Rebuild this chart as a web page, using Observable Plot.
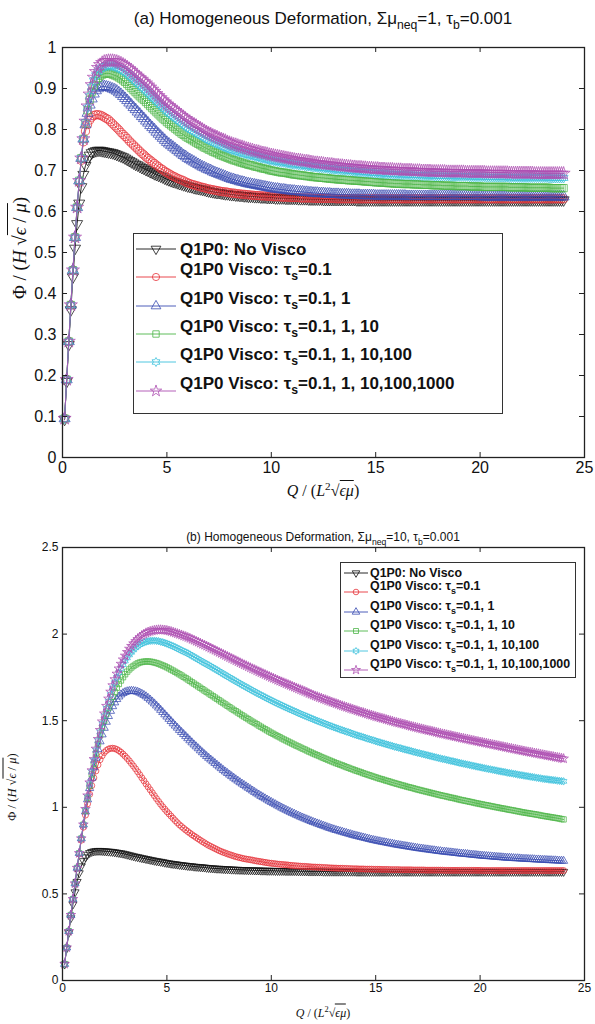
<!DOCTYPE html>
<html>
<head>
<meta charset="utf-8">
<script src="https://cdn.jsdelivr.net/npm/d3@7"></script>
<script src="https://cdn.jsdelivr.net/npm/@observablehq/plot@0.6"></script>
<style>
  body { margin: 0; background: #fff; }
  #fig { position: relative; width: 595px; height: 1024px; overflow: hidden;
         font-family: "Liberation Sans", Arial, Helvetica, sans-serif; color: #111; }
  #fig svg.plot { position: absolute; left: 0; }
  .lbl { position: absolute; white-space: nowrap; transform: translate(-50%, -50%); }
  .sub { font-size: 0.72em; position: relative; top: 0.42em; }
  .math { font-family: "Liberation Serif", "DejaVu Serif", serif; }
  .math i { font-style: italic; }
  .ov { border-top: 1px solid #111; padding-top: 1px; }
  .sup { font-size: 0.7em; position: relative; top: -0.55em; }
  .legend { position: absolute; background: #fff; border: 1px solid #333; box-sizing: border-box; }
  .legend .entry { position: absolute; left: 0; white-space: nowrap; font-weight: bold; }
  .legend svg { position: absolute; overflow: visible; }
</style>
</head>
<body>
<div id="fig"></div>
<script>
// Flux rate Q/(L^2 sqrt(eps mu)), one row per unit of Q
const q = [
  0.1,0.2,0.3,0.4,0.5,0.6,0.7,0.8,0.9,1.0,
  1.1,1.2,1.3,1.4,1.5,1.6,1.7,1.8,1.9,2.0,
  2.1,2.2,2.3,2.4,2.5,2.6,2.7,2.8,2.9,3.0,
  3.1,3.2,3.3,3.4,3.5,3.6,3.7,3.8,3.9,4.0,
  4.1,4.2,4.3,4.4,4.5,4.6,4.7,4.8,4.9,5.0,
  5.1,5.2,5.3,5.4,5.5,5.6,5.7,5.8,5.9,6.0,
  6.1,6.2,6.3,6.4,6.5,6.6,6.7,6.8,6.9,7.0,
  7.1,7.2,7.3,7.4,7.5,7.6,7.7,7.8,7.9,8.0,
  8.1,8.2,8.3,8.4,8.5,8.6,8.7,8.8,8.9,9.0,
  9.1,9.2,9.3,9.4,9.5,9.6,9.7,9.8,9.9,10.0,
  10.1,10.2,10.3,10.4,10.5,10.6,10.7,10.8,10.9,11.0,
  11.1,11.2,11.3,11.4,11.5,11.6,11.7,11.8,11.9,12.0,
  12.1,12.2,12.3,12.4,12.5,12.6,12.7,12.8,12.9,13.0,
  13.1,13.2,13.3,13.4,13.5,13.6,13.7,13.8,13.9,14.0,
  14.1,14.2,14.3,14.4,14.5,14.6,14.7,14.8,14.9,15.0,
  15.1,15.2,15.3,15.4,15.5,15.6,15.7,15.8,15.9,16.0,
  16.1,16.2,16.3,16.4,16.5,16.6,16.7,16.8,16.9,17.0,
  17.1,17.2,17.3,17.4,17.5,17.6,17.7,17.8,17.9,18.0,
  18.1,18.2,18.3,18.4,18.5,18.6,18.7,18.8,18.9,19.0,
  19.1,19.2,19.3,19.4,19.5,19.6,19.7,19.8,19.9,20.0,
  20.1,20.2,20.3,20.4,20.5,20.6,20.7,20.8,20.9,21.0,
  21.1,21.2,21.3,21.4,21.5,21.6,21.7,21.8,21.9,22.0,
  22.1,22.2,22.3,22.4,22.5,22.6,22.7,22.8,22.9,23.0,
  23.1,23.2,23.3,23.4,23.5,23.6,23.7,23.8,23.9,24.0];

// Q1P0 without viscosity (identical in both panels)
const noVisco = [
  .093,.185,.275,.36,.44,.51,.57,.62,.66,.69,
  .712,.727,.737,.743,.746,.748,.749,.749,.748,.747,
  .746,.745,.744,.743,.741,.739,.737,.735,.733,.730,
  .727,.724,.721,.718,.715,.713,.710,.707,.705,.702,
  .700,.697,.695,.692,.690,.688,.686,.684,.681,.679,
  .677,.675,.673,.672,.670,.668,.667,.665,.664,.662,
  .661,.660,.658,.657,.656,.655,.654,.653,.651,.650,
  .649,.648,.647,.646,.646,.645,.644,.643,.643,.642,
  .641,.641,.640,.640,.639,.639,.638,.638,.637,.637,
  .637,.636,.636,.636,.635,.635,.635,.634,.634,.634,
  .634,.633,.633,.633,.633,.633,.632,.632,.632,.632,
  .632,.632,.631,.631,.631,.631,.631,.630,.630,.630,
  .630,.630,.630,.630,.629,.629,.629,.629,.629,.629,
  .629,.629,.629,.629,.629,.629,.629,.629,.629,.629,
  .628,.628,.628,.628,.628,.628,.628,.628,.628,.628,
  .628,.628,.628,.628,.628,.628,.628,.628,.628,.628,
  .628,.628,.628,.628,.628,.628,.628,.628,.628,.628,
  .628,.628,.628,.628,.628,.628,.628,.628,.628,.628,
  .628,.628,.628,.628,.628,.628,.628,.628,.628,.628,
  .628,.628,.628,.628,.628,.628,.628,.628,.628,.628,
  .628,.628,.628,.628,.628,.628,.628,.628,.628,.628,
  .628,.628,.628,.628,.628,.628,.628,.628,.628,.628,
  .628,.628,.628,.628,.628,.628,.628,.628,.628,.628,
  .628,.628,.628,.628,.628,.628,.628,.628,.628,.628];

// Panel (a): sum mu_neq = 1
const a1 = [
  .095,.19,.283,.372,.457,.537,.61,.672,.725,.77,
  .796,.812,.823,.830,.834,.836,.836,.835,.833,.830,
  .827,.824,.819,.814,.809,.804,.799,.793,.788,.783,
  .778,.772,.767,.762,.757,.752,.747,.742,.738,.733,
  .729,.725,.721,.717,.713,.709,.705,.702,.698,.695,
  .692,.689,.686,.684,.681,.679,.677,.675,.672,.670,
  .668,.666,.665,.663,.662,.660,.659,.658,.656,.655,
  .654,.653,.652,.651,.650,.649,.648,.648,.647,.646,
  .645,.645,.644,.643,.643,.642,.642,.641,.641,.640,
  .640,.639,.639,.639,.638,.638,.638,.637,.637,.637,
  .636,.636,.636,.636,.635,.635,.635,.635,.634,.634,
  .634,.634,.634,.633,.633,.633,.633,.633,.633,.632,
  .632,.632,.632,.632,.632,.632,.632,.632,.632,.632,
  .631,.631,.631,.631,.631,.631,.631,.631,.631,.631,
  .631,.631,.631,.631,.631,.631,.631,.631,.631,.631,
  .631,.631,.631,.631,.631,.631,.631,.631,.631,.631,
  .631,.631,.631,.631,.631,.631,.631,.631,.631,.631,
  .631,.631,.631,.631,.631,.631,.631,.631,.631,.631,
  .631,.631,.631,.631,.631,.631,.631,.631,.631,.631,
  .631,.631,.631,.631,.631,.631,.631,.631,.631,.631,
  .631,.631,.631,.631,.631,.631,.631,.631,.631,.631,
  .631,.631,.631,.631,.631,.631,.631,.631,.631,.631,
  .631,.631,.631,.631,.631,.631,.631,.631,.631,.631,
  .631,.631,.631,.631,.631,.631,.631,.631,.631,.631];
const a2 = [
  .095,.19,.283,.372,.457,.537,.61,.675,.73,.777,
  .812,.840,.860,.875,.887,.895,.900,.903,.905,.905,
  .904,.903,.901,.899,.897,.894,.890,.886,.881,.876,
  .871,.865,.860,.854,.849,.843,.838,.832,.827,.821,
  .816,.810,.805,.800,.794,.789,.784,.779,.774,.769,
  .765,.761,.757,.753,.749,.745,.741,.737,.734,.730,
  .727,.724,.721,.718,.715,.712,.709,.707,.704,.702,
  .700,.697,.695,.693,.691,.689,.687,.685,.683,.681,
  .679,.678,.676,.675,.673,.672,.671,.669,.668,.667,
  .666,.665,.664,.663,.662,.661,.660,.659,.658,.657,
  .656,.655,.655,.654,.653,.653,.652,.651,.651,.650,
  .650,.649,.649,.648,.648,.647,.647,.646,.646,.645,
  .645,.645,.644,.644,.644,.643,.643,.643,.642,.642,
  .642,.642,.641,.641,.641,.641,.641,.640,.640,.640,
  .640,.640,.639,.639,.639,.639,.639,.639,.639,.638,
  .638,.638,.638,.638,.638,.638,.638,.638,.638,.638,
  .638,.638,.638,.638,.637,.637,.637,.637,.637,.637,
  .637,.637,.637,.637,.637,.637,.637,.637,.637,.637,
  .637,.637,.637,.637,.637,.637,.637,.637,.637,.637,
  .637,.637,.637,.637,.637,.637,.637,.637,.637,.637,
  .636,.636,.636,.636,.636,.636,.636,.636,.636,.636,
  .636,.636,.636,.636,.636,.636,.636,.636,.636,.636,
  .636,.636,.636,.636,.636,.636,.636,.636,.636,.636,
  .636,.636,.636,.636,.636,.636,.636,.636,.636,.636];
const a3 = [
  .095,.19,.283,.372,.457,.537,.61,.675,.73,.777,
  .815,.847,.872,.892,.907,.918,.926,.931,.934,.936,
  .937,.937,.936,.934,.932,.930,.927,.924,.920,.916,
  .911,.906,.901,.896,.891,.886,.881,.876,.872,.867,
  .862,.857,.852,.847,.842,.837,.832,.827,.823,.818,
  .814,.810,.806,.802,.798,.794,.790,.787,.783,.780,
  .777,.774,.771,.768,.765,.762,.759,.756,.754,.751,
  .749,.746,.744,.742,.739,.737,.735,.733,.731,.729,
  .727,.725,.724,.722,.720,.719,.717,.716,.714,.713,
  .712,.710,.709,.708,.706,.705,.704,.703,.701,.700,
  .699,.698,.697,.696,.695,.695,.694,.693,.692,.691,
  .690,.690,.689,.688,.688,.687,.686,.686,.685,.684,
  .684,.683,.683,.682,.682,.681,.681,.680,.680,.679,
  .679,.678,.678,.678,.677,.677,.676,.676,.676,.675,
  .675,.675,.674,.674,.673,.673,.673,.672,.672,.671,
  .671,.671,.670,.670,.670,.669,.669,.669,.668,.668,
  .668,.668,.667,.667,.667,.667,.667,.666,.666,.666,
  .666,.665,.665,.665,.665,.665,.664,.664,.664,.664,
  .664,.663,.663,.663,.663,.663,.663,.662,.662,.662,
  .662,.662,.662,.662,.661,.661,.661,.661,.661,.661,
  .660,.660,.660,.660,.660,.660,.660,.660,.660,.660,
  .660,.660,.660,.659,.659,.659,.659,.659,.659,.659,
  .659,.659,.658,.658,.658,.658,.658,.658,.658,.658,
  .658,.658,.658,.657,.657,.657,.657,.657,.657,.657];
const a4 = [
  .095,.19,.283,.372,.457,.537,.61,.675,.73,.777,
  .818,.853,.881,.903,.919,.932,.941,.947,.951,.954,
  .955,.956,.956,.955,.954,.952,.950,.947,.944,.941,
  .937,.932,.928,.923,.918,.914,.909,.904,.900,.895,
  .890,.885,.880,.875,.870,.865,.860,.855,.850,.845,
  .841,.837,.833,.829,.825,.821,.817,.813,.809,.805,
  .802,.799,.796,.793,.790,.787,.784,.781,.778,.775,
  .773,.771,.768,.766,.764,.762,.759,.757,.755,.753,
  .751,.750,.748,.747,.745,.744,.742,.741,.739,.738,
  .737,.735,.734,.733,.731,.730,.729,.728,.726,.725,
  .724,.723,.722,.721,.720,.720,.719,.718,.717,.716,
  .715,.715,.714,.713,.713,.712,.711,.711,.710,.709,
  .709,.708,.707,.707,.706,.706,.705,.704,.704,.703,
  .703,.702,.702,.701,.701,.700,.700,.699,.699,.698,
  .698,.697,.697,.697,.696,.696,.695,.695,.694,.694,
  .694,.693,.693,.693,.692,.692,.692,.691,.691,.691,
  .691,.690,.690,.690,.690,.690,.689,.689,.689,.689,
  .689,.688,.688,.688,.688,.688,.688,.687,.687,.687,
  .687,.687,.687,.687,.687,.686,.686,.686,.686,.686,
  .686,.686,.686,.686,.685,.685,.685,.685,.685,.685,
  .685,.685,.684,.684,.684,.684,.684,.684,.684,.684,
  .684,.684,.684,.683,.683,.683,.683,.683,.683,.683,
  .683,.683,.683,.683,.683,.683,.683,.683,.683,.683,
  .683,.683,.682,.682,.682,.682,.682,.682,.682,.682];
const a5 = [
  .095,.19,.283,.372,.457,.537,.61,.675,.73,.777,
  .820,.857,.886,.909,.927,.941,.951,.958,.963,.966,
  .967,.968,.968,.968,.967,.966,.964,.962,.959,.956,
  .952,.948,.944,.939,.935,.930,.926,.922,.917,.913,
  .908,.903,.898,.893,.887,.882,.877,.872,.867,.862,
  .858,.854,.850,.846,.842,.838,.834,.830,.826,.822,
  .819,.816,.813,.810,.806,.803,.800,.797,.794,.791,
  .789,.786,.784,.782,.779,.777,.775,.773,.770,.768,
  .766,.764,.763,.761,.759,.758,.756,.754,.753,.751,
  .750,.748,.747,.746,.744,.743,.742,.741,.739,.738,
  .737,.736,.735,.734,.733,.732,.731,.730,.729,.728,
  .727,.726,.726,.725,.724,.723,.723,.722,.721,.720,
  .719,.719,.718,.718,.717,.716,.716,.715,.715,.714,
  .713,.713,.712,.712,.711,.711,.710,.710,.709,.709,
  .708,.708,.708,.707,.707,.706,.706,.706,.705,.705,
  .705,.704,.704,.704,.703,.703,.703,.703,.702,.702,
  .702,.702,.701,.701,.701,.701,.701,.700,.700,.700,
  .700,.699,.699,.699,.699,.699,.698,.698,.698,.698,
  .698,.698,.698,.697,.697,.697,.697,.697,.697,.697,
  .697,.697,.696,.696,.696,.696,.696,.696,.696,.696,
  .696,.696,.695,.695,.695,.695,.695,.695,.695,.695,
  .695,.695,.695,.694,.694,.694,.694,.694,.694,.694,
  .694,.694,.694,.694,.694,.693,.693,.693,.693,.693,
  .693,.693,.693,.693,.693,.693,.693,.693,.693,.693];

// Panel (b): sum mu_neq = 10
const b1 = [
  .095,.19,.285,.378,.47,.56,.648,.73,.81,.885,
  .955,1.02,1.075,1.125,1.17,1.21,1.245,1.275,1.298,1.316,
  1.328,1.336,1.340,1.341,1.339,1.334,1.327,1.318,1.307,1.295,
  1.282,1.268,1.253,1.238,1.222,1.205,1.188,1.170,1.153,1.135,
  1.118,1.101,1.084,1.067,1.050,1.034,1.018,1.003,.989,.975,
  .962,.949,.936,.923,.911,.899,.889,.879,.869,.860,
  .851,.842,.834,.826,.818,.810,.802,.795,.787,.780,
  .774,.768,.762,.756,.750,.745,.740,.736,.731,.727,
  .723,.719,.715,.712,.709,.706,.703,.701,.699,.697,
  .695,.692,.690,.688,.686,.684,.682,.680,.678,.677,
  .675,.674,.672,.671,.670,.669,.668,.667,.665,.664,
  .663,.662,.661,.660,.659,.659,.658,.657,.656,.655,
  .655,.654,.654,.653,.652,.652,.651,.650,.650,.649,
  .649,.648,.648,.648,.647,.647,.646,.646,.645,.645,
  .645,.644,.644,.644,.643,.643,.643,.643,.642,.642,
  .642,.642,.641,.641,.641,.641,.640,.640,.640,.640,
  .640,.639,.639,.639,.639,.639,.639,.638,.638,.638,
  .638,.638,.638,.637,.637,.637,.637,.637,.637,.637,
  .637,.637,.636,.636,.636,.636,.636,.636,.636,.636,
  .636,.636,.636,.636,.636,.636,.636,.636,.636,.636,
  .635,.635,.635,.635,.635,.635,.635,.635,.635,.635,
  .635,.635,.635,.635,.635,.635,.635,.635,.635,.635,
  .635,.635,.635,.635,.635,.635,.635,.635,.635,.635,
  .635,.635,.635,.635,.635,.635,.635,.635,.635,.635];
const b2 = [
  .095,.19,.285,.378,.47,.56,.65,.735,.82,.90,
  .975,1.045,1.11,1.17,1.23,1.285,1.335,1.38,1.42,1.458,
  1.493,1.526,1.556,1.583,1.605,1.624,1.639,1.651,1.659,1.665,
  1.669,1.671,1.672,1.671,1.669,1.666,1.661,1.655,1.648,1.640,
  1.631,1.621,1.610,1.599,1.587,1.575,1.562,1.549,1.536,1.523,
  1.510,1.497,1.484,1.471,1.459,1.446,1.434,1.422,1.410,1.398,
  1.386,1.374,1.362,1.351,1.340,1.328,1.317,1.306,1.295,1.285,
  1.275,1.265,1.255,1.245,1.235,1.225,1.215,1.206,1.197,1.188,
  1.179,1.170,1.161,1.153,1.144,1.136,1.128,1.120,1.112,1.104,
  1.096,1.088,1.080,1.073,1.065,1.058,1.051,1.044,1.037,1.030,
  1.023,1.017,1.010,1.004,.997,.991,.985,.979,.973,.967,
  .962,.956,.951,.945,.940,.935,.930,.925,.920,.915,
  .911,.906,.902,.897,.893,.889,.884,.880,.876,.872,
  .868,.865,.861,.858,.854,.851,.847,.844,.840,.837,
  .834,.831,.828,.825,.822,.819,.816,.813,.810,.808,
  .805,.803,.800,.798,.796,.793,.791,.789,.786,.784,
  .782,.780,.778,.776,.774,.772,.770,.768,.766,.764,
  .762,.761,.759,.757,.756,.754,.752,.751,.749,.747,
  .746,.744,.743,.742,.740,.739,.738,.736,.735,.733,
  .732,.731,.730,.729,.727,.726,.725,.724,.722,.721,
  .720,.719,.718,.717,.716,.715,.714,.713,.712,.711,
  .710,.709,.708,.708,.707,.706,.705,.705,.704,.703,
  .702,.702,.701,.700,.700,.699,.698,.698,.697,.696,
  .696,.695,.694,.694,.693,.693,.692,.691,.691,.690];
const b3 = [
  .095,.19,.285,.378,.47,.56,.65,.735,.82,.90,
  .98,1.055,1.125,1.19,1.25,1.31,1.365,1.415,1.46,1.50,
  1.538,1.574,1.607,1.638,1.665,1.690,1.712,1.732,1.751,1.768,
  1.783,1.796,1.807,1.816,1.824,1.831,1.836,1.839,1.841,1.842,
  1.842,1.841,1.839,1.836,1.833,1.829,1.824,1.819,1.814,1.808,
  1.802,1.795,1.789,1.782,1.775,1.768,1.761,1.753,1.746,1.738,
  1.730,1.722,1.714,1.706,1.698,1.690,1.682,1.674,1.666,1.658,
  1.650,1.642,1.634,1.626,1.618,1.610,1.602,1.594,1.586,1.578,
  1.570,1.562,1.555,1.547,1.539,1.531,1.524,1.516,1.509,1.501,
  1.494,1.487,1.480,1.472,1.465,1.458,1.451,1.444,1.437,1.430,
  1.424,1.417,1.411,1.405,1.398,1.392,1.386,1.380,1.374,1.368,
  1.362,1.356,1.351,1.345,1.339,1.334,1.328,1.322,1.317,1.311,
  1.306,1.301,1.296,1.290,1.285,1.280,1.275,1.270,1.265,1.260,
  1.255,1.251,1.246,1.242,1.237,1.232,1.228,1.223,1.219,1.214,
  1.210,1.206,1.202,1.197,1.193,1.189,1.185,1.181,1.177,1.173,
  1.169,1.165,1.162,1.158,1.154,1.151,1.147,1.143,1.140,1.136,
  1.133,1.129,1.126,1.123,1.119,1.116,1.113,1.110,1.106,1.103,
  1.100,1.097,1.094,1.091,1.088,1.085,1.082,1.079,1.076,1.073,
  1.070,1.067,1.065,1.062,1.059,1.056,1.054,1.051,1.048,1.045,
  1.042,1.040,1.037,1.035,1.032,1.030,1.027,1.024,1.022,1.019,
  1.017,1.014,1.012,1.010,1.007,1.005,1.002,1.000,.998,.995,
  .993,.991,.988,.986,.984,.982,.979,.977,.975,.972,
  .970,.968,.966,.964,.962,.960,.958,.956,.953,.951,
  .949,.947,.945,.943,.941,.939,.937,.935,.932,.930];
const b4 = [
  .095,.19,.285,.378,.47,.56,.65,.735,.82,.90,
  .985,1.06,1.135,1.205,1.27,1.33,1.385,1.435,1.483,1.528,
  1.571,1.612,1.651,1.687,1.720,1.750,1.777,1.802,1.824,1.845,
  1.863,1.880,1.895,1.909,1.921,1.931,1.940,1.947,1.952,1.956,
  1.959,1.961,1.962,1.962,1.961,1.959,1.956,1.953,1.949,1.945,
  1.940,1.935,1.930,1.924,1.918,1.912,1.906,1.900,1.895,1.889,
  1.882,1.875,1.868,1.861,1.854,1.847,1.840,1.833,1.827,1.820,
  1.813,1.806,1.799,1.792,1.785,1.777,1.770,1.763,1.756,1.749,
  1.742,1.735,1.728,1.721,1.714,1.707,1.700,1.694,1.687,1.680,
  1.674,1.667,1.661,1.654,1.648,1.642,1.635,1.629,1.623,1.617,
  1.611,1.605,1.599,1.594,1.588,1.582,1.577,1.571,1.566,1.560,
  1.555,1.550,1.544,1.539,1.534,1.529,1.524,1.519,1.514,1.509,
  1.504,1.499,1.495,1.490,1.485,1.481,1.476,1.471,1.467,1.462,
  1.458,1.454,1.449,1.445,1.441,1.437,1.433,1.429,1.424,1.420,
  1.416,1.412,1.409,1.405,1.401,1.397,1.393,1.390,1.386,1.382,
  1.378,1.375,1.371,1.368,1.364,1.361,1.357,1.354,1.350,1.347,
  1.344,1.341,1.337,1.334,1.331,1.328,1.325,1.321,1.318,1.315,
  1.312,1.309,1.306,1.303,1.300,1.297,1.294,1.291,1.288,1.285,
  1.282,1.279,1.277,1.274,1.271,1.268,1.266,1.263,1.260,1.257,
  1.254,1.252,1.249,1.247,1.244,1.241,1.239,1.236,1.234,1.231,
  1.229,1.226,1.224,1.221,1.219,1.217,1.214,1.212,1.209,1.207,
  1.205,1.203,1.200,1.198,1.196,1.194,1.192,1.189,1.187,1.185,
  1.183,1.181,1.179,1.177,1.175,1.173,1.171,1.169,1.167,1.165,
  1.163,1.162,1.160,1.159,1.157,1.156,1.154,1.153,1.151,1.150];
const b5 = [
  .095,.19,.285,.378,.47,.56,.65,.735,.82,.90,
  .99,1.068,1.143,1.213,1.278,1.338,1.394,1.446,1.495,1.541,
  1.585,1.627,1.667,1.704,1.739,1.771,1.801,1.828,1.853,1.875,
  1.896,1.915,1.931,1.946,1.959,1.971,1.982,1.992,2.000,2.007,
  2.012,2.016,2.019,2.022,2.024,2.025,2.025,2.024,2.023,2.021,
  2.018,2.015,2.011,2.007,2.003,1.999,1.995,1.990,1.986,1.981,
  1.976,1.970,1.965,1.959,1.954,1.948,1.942,1.937,1.931,1.925,
  1.919,1.913,1.907,1.901,1.895,1.889,1.883,1.877,1.871,1.865,
  1.859,1.853,1.847,1.841,1.835,1.829,1.823,1.818,1.812,1.806,
  1.800,1.795,1.789,1.783,1.778,1.772,1.767,1.761,1.756,1.750,
  1.745,1.740,1.734,1.729,1.724,1.719,1.714,1.709,1.704,1.699,
  1.694,1.689,1.684,1.679,1.674,1.669,1.664,1.658,1.653,1.648,
  1.643,1.639,1.634,1.630,1.625,1.621,1.616,1.612,1.607,1.603,
  1.599,1.595,1.590,1.586,1.582,1.578,1.574,1.570,1.566,1.562,
  1.558,1.554,1.550,1.547,1.543,1.539,1.535,1.532,1.528,1.524,
  1.521,1.517,1.514,1.511,1.507,1.504,1.500,1.497,1.493,1.490,
  1.487,1.484,1.481,1.478,1.475,1.471,1.468,1.465,1.462,1.459,
  1.456,1.453,1.450,1.447,1.444,1.442,1.439,1.436,1.433,1.430,
  1.427,1.424,1.422,1.419,1.416,1.414,1.411,1.408,1.406,1.403,
  1.400,1.398,1.395,1.393,1.390,1.387,1.385,1.382,1.380,1.377,
  1.375,1.372,1.370,1.367,1.365,1.362,1.360,1.357,1.355,1.352,
  1.350,1.347,1.345,1.342,1.340,1.337,1.335,1.332,1.330,1.327,
  1.325,1.322,1.320,1.318,1.316,1.313,1.311,1.309,1.306,1.304,
  1.302,1.299,1.297,1.295,1.293,1.290,1.288,1.286,1.283,1.281];

const seriesHead = ["Q1P0: No Visco", "Q1P0 Visco:", "Q1P0 Visco:", "Q1P0 Visco:", "Q1P0 Visco:", "Q1P0 Visco:"];
const tauS = [null, "=0.1", "=0.1, 1", "=0.1, 1, 10", "=0.1, 1, 10,100", "=0.1, 1, 10,100,1000"];
const colors = ["#111111", "#e6333a", "#3a4cb2", "#4db548", "#3dc1dc", "#ad4fb1"];

const xTicks = [0, 5, 10, 15, 20, 25];
const yTicksA = [0, 0.1, 0.2, 0.3, 0.4, 0.5, 0.6, 0.7, 0.8, 0.9, 1];
const yTicksB = [0, 0.5, 1, 1.5, 2, 2.5];

// marker shapes: down-triangle, circle, up-triangle, square, hexagram, pentagram
const triangleDown = {
  draw(ctx, size) {
    const y = -Math.sqrt(size / (Math.sqrt(3) * 3));
    ctx.moveTo(0, -y * 2);
    ctx.lineTo(-Math.sqrt(3) * y, y);
    ctx.lineTo(Math.sqrt(3) * y, y);
    ctx.closePath();
  }
};
const hexagram = {
  draw(ctx, size) {
    const R = Math.sqrt(size / Math.PI) * 1.25, r = R / Math.sqrt(3);
    for (let k = 0; k < 12; ++k) {
      const a = k * Math.PI / 6 - Math.PI / 2, rr = k % 2 ? r : R;
      const x = rr * Math.cos(a), y = rr * Math.sin(a);
      k ? ctx.lineTo(x, y) : ctx.moveTo(x, y);
    }
    ctx.closePath();
  }
};
const symbols = [triangleDown, d3.symbolCircle, d3.symbolTriangle, d3.symbolSquare, hexagram, d3.symbolStar];

const fig = document.getElementById("fig");

function panel(sets, o) {
  const innerH = o.height - o.mt - o.mb;
  const innerW = 595 - o.ml - o.mr;
  const marks = [];
  sets.forEach((vals, i) => {
    const rows = q.map((x, j) => ({q: x, v: vals[j]}));
    marks.push(Plot.line(rows, {x: "q", y: "v", stroke: colors[i], strokeWidth: 0.9}));
    marks.push(Plot.dot(rows, {x: "q", y: "v", stroke: colors[i], fill: "none",
      symbol: symbols[i], r: o.r, strokeWidth: 0.75}));
  });
  // inward ticks on all four sides of the box
  marks.push(Plot.ruleX(xTicks.slice(1, -1), {x: d => d, insetTop: innerH - o.tick, stroke: "#222", strokeWidth: 1}));
  marks.push(Plot.ruleX(xTicks.slice(1, -1), {x: d => d, insetBottom: innerH - o.tick, stroke: "#222", strokeWidth: 1}));
  marks.push(Plot.ruleY(o.yTicks.slice(1, -1), {y: d => d, insetRight: innerW - o.tick, stroke: "#222", strokeWidth: 1}));
  marks.push(Plot.ruleY(o.yTicks.slice(1, -1), {y: d => d, insetLeft: innerW - o.tick, stroke: "#222", strokeWidth: 1}));
  marks.push(Plot.axisX({ticks: xTicks, tickSize: 0, tickPadding: o.padX, label: null, tickFormat: d => String(d)}));
  marks.push(Plot.axisY({ticks: o.yTicks, tickSize: 0, tickPadding: o.padY, label: null, tickFormat: d => String(d)}));
  marks.push(Plot.frame({stroke: "#222", strokeWidth: 1.3}));
  const svg = Plot.plot({
    width: 595, height: o.height,
    marginLeft: o.ml, marginRight: o.mr, marginTop: o.mt, marginBottom: o.mb,
    x: {domain: [0, 25]}, y: {domain: o.yDomain},
    style: {fontFamily: '"Liberation Sans", Arial, sans-serif', fontSize: o.font + "px", color: "#111", background: "transparent"},
    marks
  });
  svg.style.top = o.top + "px";
  fig.appendChild(svg);
}

panel([noVisco, a1, a2, a3, a4, a5], {
  top: 0, height: 500, ml: 62, mr: 11, mt: 47, mb: 43, r: 4.1, tick: 5,
  yDomain: [0, 1], yTicks: yTicksA, font: 16, padX: 4, padY: 6
});
panel([noVisco, b1, b2, b3, b4, b5], {
  top: 510, height: 514, ml: 62, mr: 11, mt: 47, mb: 34, r: 3, tick: 5,
  yDomain: [0, 2.5], yTicks: yTicksB, font: 12, padX: 3, padY: 4
});

function addLabel(html, x, y, style) {
  const d = document.createElement("div");
  d.className = "lbl";
  d.innerHTML = html;
  d.style.left = x + "px";
  d.style.top = y + "px";
  Object.assign(d.style, style || {});
  fig.appendChild(d);
  return d;
}

// titles
addLabel('(a) Homogeneous Deformation, Σμ<span class="sub">neq</span>=1, τ<span class="sub">b</span>=0.001', 323, 19, {fontSize: "17px"});
addLabel('(b) Homogeneous Deformation, Σμ<span class="sub">neq</span>=10, τ<span class="sub">b</span>=0.001', 323, 537, {fontSize: "12px"});

// axis titles
const xTitle = '<span class="math"><i>Q</i> / (<i>L</i><span class="sup">2</span>√<span class="ov"><i>ϵμ</i></span>)</span>';
const yTitle = '<span class="math">Φ / (<i>H</i> √<span class="ov"><i>ϵ</i> / <i>μ</i></span>)</span>';
addLabel(xTitle, 323, 491, {fontSize: "16px"});
addLabel(xTitle, 323, 1013, {fontSize: "12px"});
addLabel(yTitle, 20, 248, {fontSize: "19px", transform: "translate(-50%,-50%) rotate(-90deg)"});
addLabel(yTitle, 12, 787, {fontSize: "12.5px", transform: "translate(-50%,-50%) rotate(-90deg)"});

// legends
function legend(o) {
  const box = document.createElement("div");
  box.className = "legend";
  Object.assign(box.style, {left: o.left + "px", top: o.top + "px", width: o.w + "px", height: o.h + "px", fontSize: o.font + "px"});
  seriesHead.forEach((head, i) => {
    const cy = o.rows[i];
    const ly = cy + (i ? o.lineDrop : 0);
    const s = d3.create("svg").attr("width", o.lineW).attr("height", 2)
      .style("left", o.lineX + "px").style("top", (ly - 1) + "px");
    s.append("line").attr("x1", 0).attr("x2", o.lineW).attr("y1", 1).attr("y2", 1)
      .attr("stroke", colors[i]).attr("stroke-width", 0.9);
    s.append("path").attr("transform", `translate(${o.lineW / 2},1)`)
      .attr("d", d3.symbol().type(symbols[i]).size(Math.PI * o.r * o.r)())
      .attr("fill", "none").attr("stroke", colors[i]).attr("stroke-width", 0.8);
    box.appendChild(s.node());
    const t = document.createElement("div");
    t.className = "entry";
    t.innerHTML = tauS[i] ? `${head} τ<span class="sub">s</span>${tauS[i]}` : head;
    t.style.left = o.textX + "px";
    t.style.top = cy + "px";
    t.style.transform = "translateY(-50%)";
    t.style.lineHeight = "1";
    box.appendChild(t);
  });
  fig.appendChild(box);
}
legend({left: 133, top: 233, w: 370, h: 181, font: 17, r: 3.6,
  rows: [15, 35, 64, 92, 120, 149], lineDrop: 8, lineX: 2, lineW: 40, textX: 46});
legend({left: 340, top: 562, w: 236, h: 116, font: 12.4, r: 2.8,
  rows: [10, 23, 43, 62, 82, 101], lineDrop: 6, lineX: 3, lineW: 24, textX: 29});
</script>
</body>
</html>
